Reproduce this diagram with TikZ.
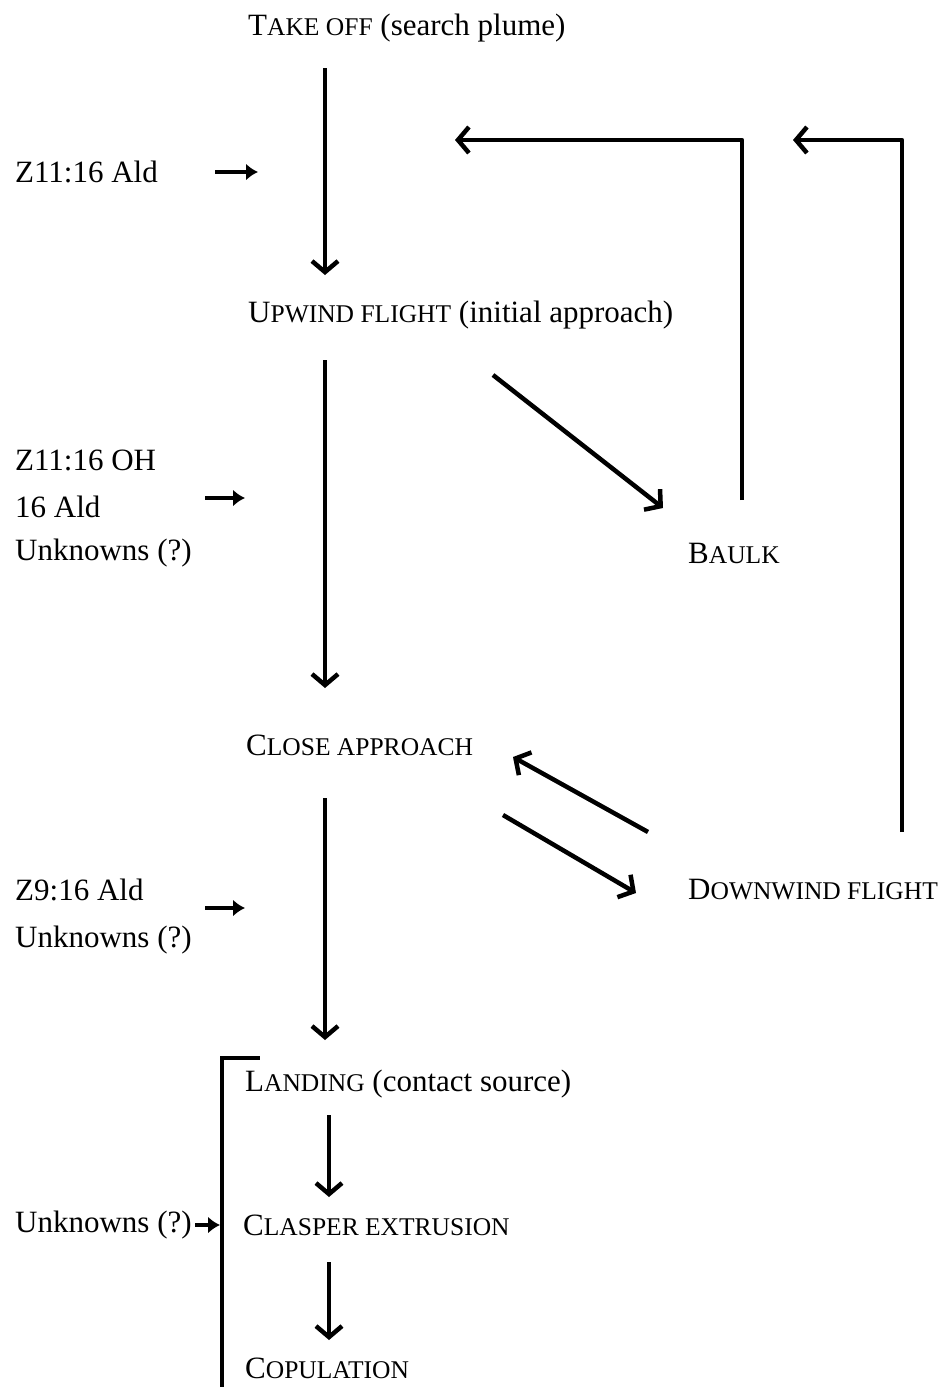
\documentclass[tikz,border=0pt]{standalone}
\usepackage{fontspec}
\setmainfont{Liberation Serif}
\usepackage{tikz}
\usetikzlibrary{positioning,arrows.meta,calc}

% fake small caps: first letter full size, the rest smaller
\newcommand{\smc}[1]{{\fontsize{25.5}{30}\selectfont #1}}

\begin{document}
\begin{tikzpicture}[x=1pt,y=-1pt,
    label/.style={anchor=west, inner sep=0pt, font=\fontsize{31}{37}\selectfont},
    flow/.style={line width=4.5pt, -{Straight Barb[length=11pt,width=26pt,line width=4.5pt]}},
    agent/.style={line width=4.5pt, -{Latex[length=12pt,width=17pt]}},
    bar/.style={line width=4.5pt, line cap=rect}]
    \useasboundingbox (0,0) rectangle (939,1387);

    % Behaviour steps
    \node[label] (takeoff) at (248,28) {T\smc{AKE OFF} (search plume)};
    \node[label] (upwind) at (248,315) {U\smc{PWIND FLIGHT} (initial approach)};
    \node[label] (baulk) at (688,553) {B\smc{AULK}};
    \node[label] (close) at (246,745) {C\smc{LOSE APPROACH}};
    \node[label] (downwind) at (688,890) {D\smc{OWNWIND FLIGHT}};
    \node[label] (landing) at (245,1084) {L\smc{ANDING} (contact source)};
    \node[label] (clasper) at (243,1225) {C\smc{LASPER EXTRUSION}};
    \node[label] (copulation) at (245,1368) {C\smc{OPULATION}};

    % Stimuli
    \node[label] (ald) at (15,172) {Z11:16 Ald};
    \node[label] (oh) at (15,460) {Z11:16 OH};
    \node[label] (ald16) at (15,507) {16 Ald};
    \node[label] (unk1) at (15,553) {Unknowns (?)};
    \node[label] (z9) at (15,890) {Z9:16 Ald};
    \node[label] (unk2) at (15,940) {Unknowns (?)};
    \node[label] (unk3) at (15,1225) {Unknowns (?)};

    % Arrow ends
    \coordinate (a1) at (325,68);   \coordinate (a2) at (325,275);
    \coordinate (b1) at (325,360);  \coordinate (b2) at (325,688);
    \coordinate (c1) at (325,798);  \coordinate (c2) at (325,1040);
    \coordinate (d1) at (329,1115); \coordinate (d2) at (329,1197);
    \coordinate (e1) at (329,1262); \coordinate (e2) at (329,1340);
    \coordinate (u1) at (493,375);  \coordinate (u2) at (663,508);
    \coordinate (k1) at (742,500);  \coordinate (k2) at (742,140);
    \coordinate (k3) at (455,140);
    \coordinate (w1) at (902,832);  \coordinate (w2) at (902,140);
    \coordinate (w3) at (793,140);
    \coordinate (p1) at (503,815);  \coordinate (p2) at (636,893);
    \coordinate (q1) at (648,832);  \coordinate (q2) at (513,757);

    % Main sequence
    \draw[flow] (a1) -- (a2);
    \draw[flow] (b1) -- (b2);
    \draw[flow] (c1) -- (c2);
    \draw[flow] (d1) -- (d2);
    \draw[flow] (e1) -- (e2);

    % Side loops
    \draw[flow] (u1) -- (u2);
    \draw[flow, line join=round] (k1) -- (k2) -- (k3);
    \draw[flow, line join=round] (w1) -- (w2) -- (w3);
    \draw[flow] (p1) -- (p2);
    \draw[flow] (q1) -- (q2);

    % Stimulus arrows
    \draw[agent] (215,172) -- (258,172);
    \draw[agent] (205,498) -- (245,498);
    \draw[agent] (205,908) -- (245,908);
    \draw[agent] (195,1225) -- (220,1225);

    % Bracket round the contact phase
    \draw[bar] (258,1058) -- (222,1058) -- (222,1387);
\end{tikzpicture}
\end{document}
